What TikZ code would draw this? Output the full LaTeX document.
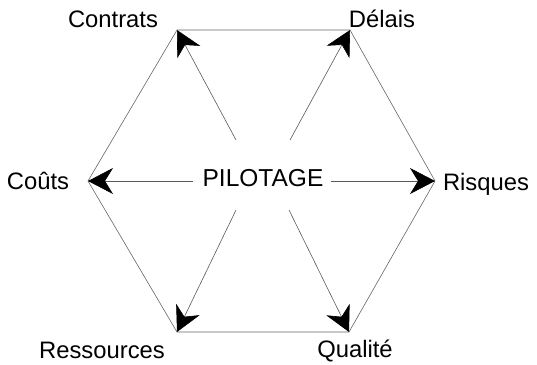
\documentclass[tikz,border=0pt]{standalone}
\usepackage{fontspec}
\setmainfont{Liberation Sans}
\usetikzlibrary{arrows.meta}
\begin{document}
\begin{tikzpicture}[x=1pt,y=-1pt,
  hexline/.style={draw=black!60, line width=0.6pt},
  ray/.style={draw=black!65, line width=0.6pt, -{Stealth[length=25pt,width=26pt,inset=8pt,color=black]}},
  lbl/.style={anchor=base, inner sep=0pt, font=\fontsize{23.8}{28}\selectfont},
  centre/.style={inner sep=2pt, font=\fontsize{24.5}{29}\selectfont}]
\useasboundingbox (0,0) rectangle (537,364);
% hexagon vertices
\coordinate (TL) at (177,30);
\coordinate (TR) at (350,30);
\coordinate (R) at (435,181);
\coordinate (BR) at (349,332);
\coordinate (BL) at (177,332);
\coordinate (L) at (88,181);
\draw[hexline] (TL) -- (TR) -- (R) -- (BR) -- (BL) -- (L) -- cycle;
% centre
\node[centre] (P) at (263,178) {PILOTAGE};
\coordinate (sTL) at (236,140);
\coordinate (sTR) at (290,140);
\coordinate (sBL) at (236,210);
\coordinate (sBR) at (289,210);
\coordinate (sL) at (193,181);
\coordinate (sR) at (331,181);
\draw[ray] (sTL) -- (TL);
\draw[ray] (sTR) -- (TR);
\draw[ray] (sBL) -- (BL);
\draw[ray] (sBR) -- (BR);
\draw[ray] (sL) -- (L);
\draw[ray] (sR) -- (R);
% labels
\node[lbl] (contrats) at (113,27) {Contrats};
\node[lbl] (delais) at (382,27) {Délais};
\node[lbl] (couts) at (38,189) {Coûts};
\node[lbl] (risques) at (486,190) {Risques};
\node[lbl] (ressources) at (102,358) {Ressources};
\node[lbl] (qualite) at (355,357) {Qualité};
\end{tikzpicture}
\end{document}
